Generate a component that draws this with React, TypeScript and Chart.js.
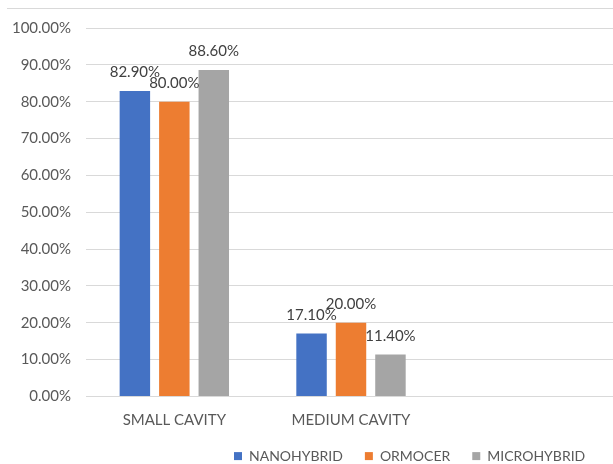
import React, { useEffect, useRef } from 'react';
import { Chart, registerables } from 'chart.js';

Chart.register(...registerables);

const categories = ['SMALL CAVITY', 'MEDIUM CAVITY', ''];
const seriesNames = ['NANOHYBRID', 'ORMOCER', 'MICROHYBRID'];
const nanohybrid = [82.9, 17.1, null];
const ormocer = [80.0, 20.0, null];
const microhybrid = [88.6, 11.4, null];
const seriesColors = ['#4472C4', '#ED7D31', '#A5A5A5'];
const yMin = 0;
const yMax = 100;
const yStep = 10;

const FONT = 'Lato, "Open Sans", sans-serif';

const dataLabelPlugin = {
  id: 'dataLabels',
  afterDatasetsDraw(chart: any) {
    const ctx = chart.ctx;
    ctx.save();
    ctx.font = `15px ${FONT}`;
    ctx.fillStyle = '#404040';
    ctx.textAlign = 'center';
    ctx.textBaseline = 'middle';
    chart.data.datasets.forEach((ds: any, i: number) => {
      const meta = chart.getDatasetMeta(i);
      meta.data.forEach((el: any, j: number) => {
        const v = ds.data[j];
        if (v === null || v === undefined) return;
        ctx.fillText(`${v.toFixed(2)}%`, el.x, el.y - 18.5);
      });
    });
    ctx.restore();
  },
};

const framePlugin = {
  id: 'frame',
  beforeDraw(chart: any) {
    const ctx = chart.ctx;
    ctx.save();
    ctx.fillStyle = '#ffffff';
    ctx.fillRect(0, 0, chart.width, chart.height);
    ctx.strokeStyle = '#d9d9d9';
    ctx.lineWidth = 1;
    ctx.beginPath();
    ctx.moveTo(7, 8.5);
    ctx.lineTo(613, 8.5);
    ctx.stroke();
    ctx.restore();
  },
};

const legendPlacePlugin = {
  id: 'legendPlace',
  afterLayout(chart: any) {
    const lg = chart.legend;
    if (!lg) return;
    const pad = 22;
    lg.left = 234 - pad;
    lg.top = 457.5 - pad - 8.4;
  },
};

export default function App() {
  const ref = useRef<HTMLCanvasElement | null>(null);
  useEffect(() => {
    if (!ref.current) return;
    const chart = new Chart(ref.current, {
      type: 'bar',
      data: {
        labels: categories,
        datasets: [
          { label: seriesNames[0], data: nanohybrid, backgroundColor: seriesColors[0] },
          { label: seriesNames[1], data: ormocer, backgroundColor: seriesColors[1] },
          { label: seriesNames[2], data: microhybrid, backgroundColor: seriesColors[2] },
        ],
      },
      options: {
        responsive: false,
        animation: false,
        devicePixelRatio: 1,
        layout: { padding: { top: 28, left: 0, right: 0, bottom: 0 } },
        datasets: {
          bar: { categoryPercentage: 0.67, barPercentage: 0.772 },
        },
        scales: {
          x: {
            grid: { display: false },
            border: { display: false },
            ticks: { font: { family: FONT, size: 15 }, color: '#595959', padding: 7 },
            afterFit(scale: any) {
              scale.height = 38;
            },
          },
          y: {
            min: yMin,
            max: yMax,
            grid: { color: '#d9d9d9', drawTicks: false },
            border: { display: false },
            ticks: {
              stepSize: yStep,
              padding: 15,
              font: { family: FONT, size: 15 },
              color: '#595959',
              callback: (v: any) => `${Number(v).toFixed(2)}%`,
            },
            afterFit(scale: any) {
              scale.width = 86;
            },
          },
        },
        plugins: {
          legend: {
            position: 'bottom',
            align: 'start',
            maxHeight: 29.5,
            labels: {
              boxWidth: 8,
              boxHeight: 8,
              padding: 22,
              color: '#595959',
              font: { family: FONT, size: 14 },
            },
          },
          tooltip: { enabled: false },
        },
      },
      plugins: [framePlugin, dataLabelPlugin, legendPlacePlugin],
    } as any);
    return () => chart.destroy();
  }, []);
  return (
    <div style={{ position: 'absolute', left: 0, top: 0, width: 613, height: 464, overflow: 'hidden', background: '#fff' }}>
      <canvas ref={ref} width={616} height={464} style={{ display: 'block', width: 616, height: 464 }} />
    </div>
  );
}
